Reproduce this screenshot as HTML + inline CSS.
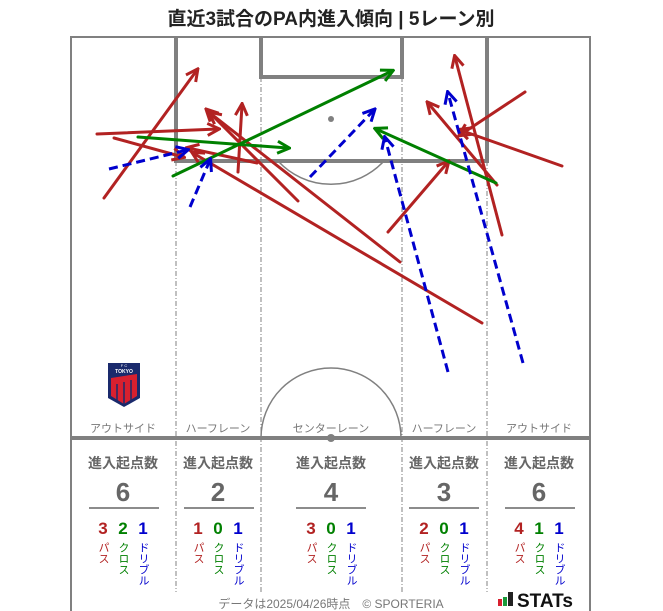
<!DOCTYPE html>
<html><head><meta charset="utf-8"><style>
body{margin:0;background:#fff;}
svg{display:block;font-family:"Liberation Sans","Noto Sans CJK JP",sans-serif;}
</style></head><body>
<svg width="663" height="611" viewBox="0 0 663 611" xmlns="http://www.w3.org/2000/svg">
<defs>
<marker id="ar" viewBox="0 0 10 10" refX="8" refY="5" markerWidth="5" markerHeight="5" orient="auto"><path d="M1,1 L9,5 L1,9" fill="none" stroke="#b22222" stroke-width="2"/></marker>
<marker id="ag" viewBox="0 0 10 10" refX="8" refY="5" markerWidth="5" markerHeight="5" orient="auto"><path d="M1,1 L9,5 L1,9" fill="none" stroke="#008000" stroke-width="2"/></marker>
<marker id="ab" viewBox="0 0 10 10" refX="8" refY="5" markerWidth="5" markerHeight="5" orient="auto"><path d="M1,1 L9,5 L1,9" fill="none" stroke="#0000cd" stroke-width="2"/></marker>
</defs>
<text x="331" y="25" text-anchor="middle" font-size="19" font-weight="bold" fill="#222">直近3試合のPA内進入傾向 | 5レーン別</text>
<g fill="none" stroke="#808080">
<path d="M71,611 V37 H590 V611" stroke-width="2"/>
<path d="M176,37 V161 H487 V37" stroke-width="4"/>
<path d="M261,37 V77 H402 V37" stroke-width="4"/>
<line x1="71" y1="438" x2="590" y2="438" stroke-width="4"/>
<path d="M278,161 A72,72 0 0 0 384,161" stroke-width="1.5"/>
<path d="M261,438 A70,70 0 0 1 401,438" stroke-width="1.5"/>
<g stroke-width="1" stroke-dasharray="5,2,1,2">
<line x1="176" y1="161" x2="176" y2="592"/>
<line x1="261" y1="77" x2="261" y2="592"/>
<line x1="402" y1="77" x2="402" y2="592"/>
<line x1="487" y1="161" x2="487" y2="592"/>
</g>
</g>
<circle cx="331" cy="119" r="3" fill="#808080"/>
<circle cx="331" cy="438" r="4" fill="#808080"/>
<g font-size="11" fill="#777" text-anchor="middle">
<text x="123" y="432">アウトサイド</text><text x="218" y="432">ハーフレーン</text><text x="331" y="432">センターレーン</text><text x="444" y="432">ハーフレーン</text><text x="539" y="432">アウトサイド</text>
</g>
<path d="M108,363 H140 V398 L124,407 L108,398 Z" fill="#1a2a6c"/>
<path d="M111,378 L137,374 V396 L124,404 L111,396 Z" fill="#d8202f"/>
<g stroke="#1a2a6c" stroke-width="1.5"><line x1="117" y1="384" x2="117" y2="402"/><line x1="124" y1="382" x2="124" y2="405"/><line x1="131" y1="380" x2="131" y2="402"/></g>
<text x="124" y="367" font-size="4" fill="#fff" text-anchor="middle">F  C</text>
<text x="124" y="373" font-size="5" fill="#fff" text-anchor="middle" font-weight="bold">TOKYO</text>
<g stroke="#b22222" stroke-width="3" fill="none" marker-end="url(#ar)" stroke-linecap="round">
<line x1="104" y1="198" x2="197" y2="70"/>
<line x1="97" y1="134" x2="218" y2="129"/>
<line x1="114" y1="138" x2="183" y2="157"/>
<line x1="257" y1="163" x2="188" y2="148"/>
<line x1="238" y1="172" x2="242" y2="105"/>
<line x1="298" y1="201" x2="207" y2="110"/>
<line x1="400" y1="262" x2="210" y2="113"/>
<line x1="482" y1="323" x2="193" y2="153"/>
<line x1="388" y1="232" x2="448" y2="162"/>
<line x1="502" y1="235" x2="455" y2="57"/>
<line x1="525" y1="92" x2="460" y2="135"/>
<line x1="562" y1="166" x2="460" y2="130"/>
<line x1="497" y1="185" x2="428" y2="103"/>
</g>
<g stroke="#008000" stroke-width="3" fill="none" marker-end="url(#ag)" stroke-linecap="round">
<line x1="173" y1="176" x2="392" y2="71"/>
<line x1="138" y1="137" x2="288" y2="148"/>
<line x1="496" y1="183" x2="376" y2="129"/>
</g>
<g stroke="#0000cd" stroke-width="3" fill="none" marker-end="url(#ab)" stroke-dasharray="9,5">
<line x1="109" y1="169" x2="187" y2="150"/>
<line x1="190" y1="207" x2="210" y2="160"/>
<line x1="310" y1="177" x2="374" y2="110"/>
<line x1="448" y1="372" x2="385" y2="138"/>
<line x1="523" y1="363" x2="448" y2="93"/>
</g>
<g text-anchor="middle">
<g font-size="14" font-weight="bold" fill="#666">
<text x="123" y="468">進入起点数</text><text x="218" y="468">進入起点数</text><text x="331" y="468">進入起点数</text><text x="444" y="468">進入起点数</text><text x="539" y="468">進入起点数</text>
</g>
<g font-size="26" font-weight="bold" fill="#666">
<text x="123" y="501">6</text><text x="218" y="501">2</text><text x="331" y="501">4</text><text x="444" y="501">3</text><text x="539" y="501">6</text>
</g>
<g stroke="#666" stroke-width="1.5">
<line x1="89" y1="508" x2="159" y2="508"/><line x1="184" y1="508" x2="254" y2="508"/><line x1="296" y1="508" x2="366" y2="508"/><line x1="409" y1="508" x2="479" y2="508"/><line x1="505" y1="508" x2="575" y2="508"/>
</g>
<g font-size="17" font-weight="bold">
<text x="103" y="534" fill="#b22222">3</text><text x="123" y="534" fill="#008000">2</text><text x="143" y="534" fill="#0000cd">1</text>
<text x="198" y="534" fill="#b22222">1</text><text x="218" y="534" fill="#008000">0</text><text x="238" y="534" fill="#0000cd">1</text>
<text x="311" y="534" fill="#b22222">3</text><text x="331" y="534" fill="#008000">0</text><text x="351" y="534" fill="#0000cd">1</text>
<text x="424" y="534" fill="#b22222">2</text><text x="444" y="534" fill="#008000">0</text><text x="464" y="534" fill="#0000cd">1</text>
<text x="519" y="534" fill="#b22222">4</text><text x="539" y="534" fill="#008000">1</text><text x="559" y="534" fill="#0000cd">1</text>
</g>
<g font-size="11" style="writing-mode:vertical-rl" text-anchor="start">
<text x="103" y="542" fill="#b22222">パス</text><text x="123" y="542" fill="#008000">クロス</text><text x="143" y="542" fill="#0000cd">ドリブル</text>
<text x="198" y="542" fill="#b22222">パス</text><text x="218" y="542" fill="#008000">クロス</text><text x="238" y="542" fill="#0000cd">ドリブル</text>
<text x="311" y="542" fill="#b22222">パス</text><text x="331" y="542" fill="#008000">クロス</text><text x="351" y="542" fill="#0000cd">ドリブル</text>
<text x="424" y="542" fill="#b22222">パス</text><text x="444" y="542" fill="#008000">クロス</text><text x="464" y="542" fill="#0000cd">ドリブル</text>
<text x="519" y="542" fill="#b22222">パス</text><text x="539" y="542" fill="#008000">クロス</text><text x="559" y="542" fill="#0000cd">ドリブル</text>
</g>
<text x="331" y="608" font-size="12" fill="#777">データは2025/04/26時点　© SPORTERIA</text>
</g>
<rect x="498" y="599" width="4" height="7" fill="#d8202f"/>
<rect x="503" y="597" width="4" height="9" fill="#1a9a3a"/>
<rect x="508" y="592" width="5" height="14" fill="#222"/>
<text x="517" y="607" font-size="19" font-weight="bold" fill="#111">STATs</text>
</svg>
</body></html>
